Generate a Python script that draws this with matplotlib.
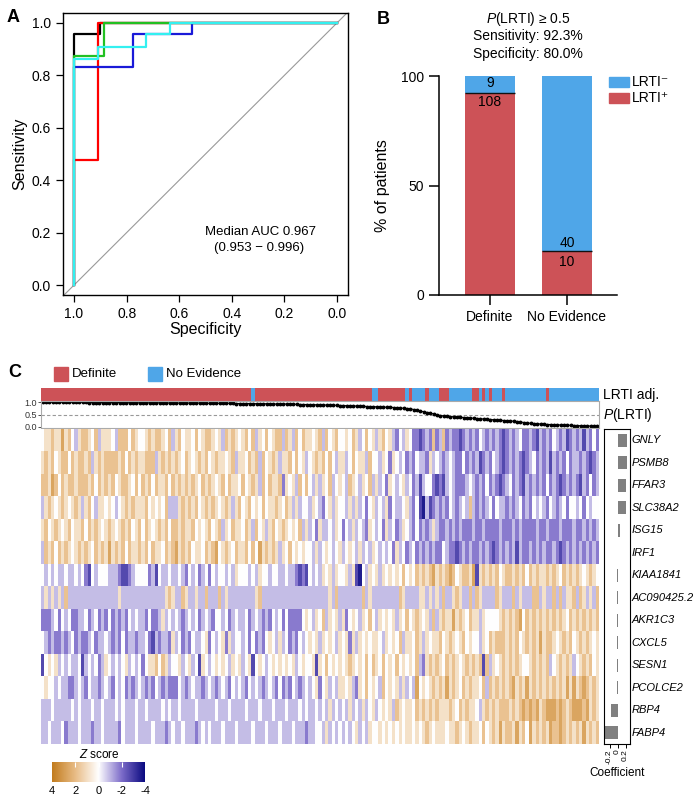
import numpy as np
import matplotlib
matplotlib.use("Agg")
import matplotlib.pyplot as plt
from matplotlib.colors import LinearSegmentedColormap, ListedColormap
from matplotlib.patches import Rectangle
from matplotlib.transforms import blended_transform_factory

plt.rcParams['font.family'] = ['Liberation Sans', 'DejaVu Sans']
plt.rcParams['mathtext.fontset'] = 'custom'
plt.rcParams['mathtext.rm'] = 'Liberation Sans'
plt.rcParams['mathtext.it'] = 'Liberation Sans:italic'

# ---------------- data ----------------
# panel A: ROC curves (specificity, sensitivity)
roc_black_spec = [1, 1, 0.90, 0.90, 0]
roc_black_sens = [0, 0.958, 0.958, 1, 1]
roc_red_spec = [1, 1, 0.907, 0.907, 0]
roc_red_sens = [0, 0.476, 0.476, 1, 1]
roc_blue_spec = [1, 1, 0.777, 0.777, 0.553, 0.553, 0]
roc_blue_sens = [0, 0.832, 0.832, 0.959, 0.959, 1, 1]
roc_green_spec = [1, 1, 0.886, 0.886, 0]
roc_green_sens = [0, 0.873, 0.873, 1, 1]
roc_cyan_spec = [1, 1, 0.907, 0.907, 0.728, 0.728, 0.635, 0.635, 0]
roc_cyan_sens = [0, 0.864, 0.864, 0.909, 0.909, 0.959, 0.959, 1, 1]

# panel B: counts
groups_b = ['Definite', 'No Evidence']
lrti_pos = [108, 10]
lrti_neg = [9, 40]

# panel C: adjudication of each patient (1 = Definite, 0 = No Evidence), run lengths
adj_runs = [(1, 63), (0, 1), (1, 35), (0, 2), (1, 8), (0, 1), (1, 1), (0, 4), (1, 1),
            (0, 3), (1, 3), (0, 7), (1, 2), (0, 1), (1, 1), (0, 1), (1, 1), (0, 3),
            (1, 1), (0, 12), (1, 1), (0, 15)]

p_lrti = [1.00, .99, .99, .99, .99, .99, .99, .99, .99, .99,
          .99, .99, .99, .99, .98, .98, .98, .98, .98, .98,
          .98, .98, .98, .98, .98, .98, .97, .97, .97, .97,
          .97, .97, .97, .97, .97, .97, .97, .97, .96, .96,
          .96, .96, .96, .96, .96, .96, .96, .96, .96, .95,
          .95, .95, .95, .95, .95, .95, .95, .95, .94, .94,
          .94, .94, .94, .94, .93, .93, .93, .93, .93, .92,
          .92, .92, .92, .92, .91, .91, .91, .90, .90, .90,
          .89, .89, .89, .88, .88, .88, .87, .87, .87, .86,
          .86, .85, .85, .84, .84, .83, .83, .82, .82, .81,
          .81, .80, .80, .79, .79, .78, .77, .76, .75, .74,
          .73, .70, .67, .64, .61, .58, .56, .52, .48, .46,
          .44, .43, .42, .41, .40, .39, .38, .37, .36, .35,
          .34, .33, .32, .31, .30, .29, .28, .27, .26, .25,
          .24, .23, .22, .20, .18, .16, .15, .14, .13, .12,
          .11, .10, .10, .09, .09, .08, .08, .07, .07, .06,
          .06, .05, .05, .04, .04, .03, .03]

genes = ['GNLY', 'PSMB8', 'FFAR3', 'SLC38A2', 'ISG15', 'IRF1', 'KIAA1841',
         'AC090425.2', 'AKR1C3', 'CXCL5', 'SESN1', 'PCOLCE2', 'RBP4', 'FABP4']
coefficients = [0.245, 0.245, 0.22, 0.20, 0.06, 0.01, -0.005, -0.008, -0.008,
                -0.008, -0.005, -0.005, -0.17, -0.32]

# z scores, one digit per patient: z = 0.9 * (digit - 5)
zrows = [
    "5667668675 4677657466 6547775765 5676776574 6756657567 7656476765 6757465756 7747647576 6567475675 5657645756 4675643546 5332343734 7343323434 3543434323 4345334324 3435434234 3424353",
    "6767567757 6776746767 7776757676 6777467676 7657656767 5676656746 6576747567 6466757564 5676757546 6457566475 5465365453 4354436454 3454335343 4234354323 4343234534 3424343534 4343234",
    "7768757677 6777675767 6756776575 7675766757 6767676576 7656757665 7567647576 6736564757 5464657456 5476546574 6453654564 5342455323 2454333454 3435343234 5343243434 3534323434 3243534",
    "4676567656 7646754665 6545676766 6756565744 4676767567 6765676467 5675657566 7657646455 4654356465 5464645356 4546354456 4352142343 4354345474 3434535443 4345343545 4354345355 4535455",
    "6756765675 6675767656 7656767567 5765676757 7676675656 7567465766 5764756467 5676565746 4536445465 3546454365 4536453465 4353434643 3434343334 3343333433 3434333343 3433343334 3343434",
    "4767576765 6767657676 8676757667 6757665767 8676756657 6785676576 6757586767 6465756565 5464565456 4565464546 5454536453 4534343433 5433234343 3434323434 3424334343 4334323434 3434343",
    "5454544544 5453254555 4443223455 5534254454 4543545345 3545545465 5545465545 5445443232 5454656465 5646215465 6465656575 6576767867 6787567768 2676767567 7676757676 6767657676 7656765",
    "4646464744 4444444444 4446444444 4444444676 4476446447 4447464444 4444674444 4444444444 4444446474 4444447464 4444444764 4446646464 7446764474 7644447644 4746444774 6447474667 4764647",
    "3334535453 3445345343 5343435454 4353346454 5434545345 4355453454 4534543435 4535333356 5465746564 6356546575 4656564657 5676564746 7668676576 6465555676 7678576767 6767676576 7676767",
    "5434334345 3433453445 4343534434 4532434436 4534354456 3545636455 4535343565 4645343545 6564656546 5636465656 6546565746 6576465667 5676567565 5465767776 7675676768 6776567675 6767656",
    "2565645454 4524545346 5454564545 3566757645 5645645265 4565654656 4562565456 5656564565 5626575656 5676565757 6575657565 6574367676 5767656767 6727465676 7676556767 6745676764 5676756",
    "5655454433 4543544345 4354534345 4343543433 3543454434 5434543545 4354543454 3534354345 4563564546 6564365756 5475656464 5485656767 6867657676 6574767676 7867686767 6767676868 6787676",
    "4445444445 4544454454 4454544454 4544445454 4544445444 4454445444 4544454445 4445444545 4454546454 5464546456 4565647656 6576767676 6676576766 5467676777 6767878786 7888787678 8878676",
    "4454445344 4544434454 4443544454 4445444345 4454443454 5444544454 4445444544 4544454443 4455464545 4545645465 5656565656 6565676566 6566765676 6575676867 7686758676 7687787676 7686767",
]

# ---------------- colours ----------------
red_c = '#CD5257'
blue_c = '#4FA6E8'
zcmap = LinearSegmentedColormap.from_list(
    'z', [(0.0, '#0A0A80'), (0.25, '#7D6CC9'), (0.5, '#FFFFFF'),
          (0.75, '#E8BC86'), (1.0, '#C27C1E')])

W, H = 700, 800
fig = plt.figure(figsize=(7, 8), dpi=100)


def ax_px(l, t, r, b):
    return fig.add_axes([l / W, 1 - b / H, (r - l) / W, (b - t) / H])


def ftext(x, y, s, **kw):
    fig.text(x / W, 1 - y / H, s, **kw)


# ---------------- panel A ----------------
axA = ax_px(63, 13, 348, 295)
axA.plot([1.042, -0.042], [-0.042, 1.042], color='#999999', lw=0.8)
for sp, se, c in [(roc_black_spec, roc_black_sens, 'black'),
                  (roc_red_spec, roc_red_sens, '#FF0000'),
                  (roc_blue_spec, roc_blue_sens, '#1A1AD8'),
                  (roc_green_spec, roc_green_sens, '#22C022'),
                  (roc_cyan_spec, roc_cyan_sens, '#33F0F0')]:
    axA.plot(sp, se, color=c, lw=1.6)
axA.set_xlim(1.042, -0.042)
axA.set_ylim(-0.038, 1.038)
ticks = [0, 0.2, 0.4, 0.6, 0.8, 1.0]
axA.set_xticks(ticks)
axA.set_xticklabels(['%.1f' % t for t in ticks])
axA.set_yticks(ticks)
axA.set_yticklabels(['%.1f' % t for t in ticks])
axA.tick_params(labelsize=10, length=5, width=0.9)
axA.set_xlabel('Specificity', fontsize=11.5, labelpad=1)
axA.set_ylabel('Sensitivity', fontsize=11.5, labelpad=3)
for s in axA.spines.values():
    s.set_linewidth(1.0)
axA.text(0.29, 0.202, 'Median AUC 0.967', ha='center', va='center', fontsize=9.5)
axA.text(0.297, 0.141, '(0.953 \u2212 0.996)', ha='center', va='center', fontsize=9.5)
ftext(13, 17, 'A', fontsize=13, fontweight='bold', ha='center', va='center')

# ---------------- panel B ----------------
axB = ax_px(439, 76, 617, 295)
xb = np.arange(len(groups_b))
tot = np.array(lrti_pos) + np.array(lrti_neg)
pos_pct = 100 * np.array(lrti_pos) / tot
neg_pct = 100 * np.array(lrti_neg) / tot
bw = 0.65
axB.bar(xb, pos_pct, width=bw, color=red_c)
axB.bar(xb, neg_pct, bottom=pos_pct, width=bw, color=blue_c)
axB.hlines(pos_pct, xb - bw / 2, xb + bw / 2, color='#111111', lw=1)
for i in range(len(xb)):
    if neg_pct[i] < 20:
        axB.text(xb[i], (pos_pct[i] + 100) / 2 + 0.5, str(lrti_neg[i]), ha='center', va='center', fontsize=10)
        axB.text(xb[i], pos_pct[i] - 4.3, str(lrti_pos[i]), ha='center', va='center', fontsize=10)
    else:
        axB.text(xb[i], pos_pct[i] + 3.8, str(lrti_neg[i]), ha='center', va='center', fontsize=10)
        axB.text(xb[i], pos_pct[i] - 4.8, str(lrti_pos[i]), ha='center', va='center', fontsize=10)
axB.set_xlim(-0.66, 1.65)
axB.set_ylim(0, 100)
axB.set_yticks([0, 50, 100])
axB.set_xticks(xb)
axB.set_xticklabels(groups_b)
axB.tick_params(labelsize=10, length=7, width=1.1)
axB.spines['top'].set_visible(False)
axB.spines['right'].set_visible(False)
axB.spines['left'].set_linewidth(1.1)
axB.spines['bottom'].set_linewidth(1.1)
axB.set_ylabel('% of patients', fontsize=11.5, labelpad=8)
ftext(528, 19, '$P$(LRTI) \u2265 0.5', ha='center', va='center', fontsize=10)
ftext(528, 36, 'Sensitivity: 92.3%', ha='center', va='center', fontsize=10)
ftext(528, 54, 'Specificity: 80.0%', ha='center', va='center', fontsize=10)
fig.patches.append(Rectangle((609 / W, 1 - 87 / H), 20 / W, 10 / H, color=blue_c,
                             transform=fig.transFigure, figure=fig))
fig.patches.append(Rectangle((609 / W, 1 - 103 / H), 20 / W, 10 / H, color=red_c,
                             transform=fig.transFigure, figure=fig))
ftext(632, 82, 'LRTI\u207b', ha='left', va='center', fontsize=10)
ftext(632, 98, 'LRTI\u207a', ha='left', va='center', fontsize=10)
ftext(383, 20, 'B', fontsize=13, fontweight='bold', ha='center', va='center')

# ---------------- panel C ----------------
ftext(15, 372, 'C', fontsize=13, fontweight='bold', ha='center', va='center')
fig.patches.append(Rectangle((54 / W, 1 - 381 / H), 14 / W, 14 / H, color=red_c,
                             transform=fig.transFigure, figure=fig))
fig.patches.append(Rectangle((148 / W, 1 - 381 / H), 14 / W, 14 / H, color=blue_c,
                             transform=fig.transFigure, figure=fig))
ftext(72, 374, 'Definite', ha='left', va='center', fontsize=9.5)
ftext(166, 374, 'No Evidence', ha='left', va='center', fontsize=9.5)

adj = np.concatenate([[v] * n for v, n in adj_runs])
n_pat = len(adj)

axT = ax_px(41, 388, 599, 401)
axT.imshow(adj[None, :], cmap=ListedColormap([blue_c, red_c]), vmin=0, vmax=1,
           aspect='auto', interpolation='nearest', extent=(-0.5, n_pat - 0.5, 0, 1))
axT.set_axis_off()
ftext(603, 394.5, 'LRTI adj.', ha='left', va='center', fontsize=10)

axP = ax_px(41, 401, 599, 428)
cols = np.arange(n_pat)
axP.axhline(0.5, color='#999999', lw=0.8, ls=(0, (3, 2)))
axP.plot(cols, p_lrti, '-o', color='black', ms=1.8, lw=0.8)
axP.set_xlim(-0.5, n_pat - 0.5)
axP.set_ylim(-0.04, 1.04)
axP.set_xticks([])
axP.set_yticks([0, 0.5, 1.0])
axP.set_yticklabels(['0.0', '0.5', '1.0'])
axP.tick_params(axis='y', labelsize=6.5, length=2, width=0.6, pad=1, colors='#333333')
for s in axP.spines.values():
    s.set_color('#AAAAAA')
    s.set_linewidth(0.8)
ftext(603, 415, '$P$(LRTI)', ha='left', va='center', fontsize=10)

Z = np.array([[0.9 * (int(ch) - 5) for ch in r.replace(' ', '')] for r in zrows])
axH = ax_px(41, 429, 599, 744)
axH.imshow(Z, cmap=zcmap, vmin=-4, vmax=4, aspect='auto', interpolation='nearest')
axH.set_axis_off()

axC = ax_px(604, 429, 630, 744)
axC.barh(np.arange(len(genes)), coefficients, height=0.58, color='#808080')
axC.set_ylim(len(genes) - 0.5, -0.5)
axC.set_xlim(-0.34, 0.31)
axC.set_yticks([])
axC.set_xticks([-0.2, 0, 0.2])
axC.set_xticklabels(['-0.2', '0', '0.2'], rotation=90)
axC.tick_params(axis='x', labelsize=6, length=3, width=0.7, pad=1)
for s in axC.spines.values():
    s.set_linewidth(0.8)
axC.set_xlabel('Coefficient', fontsize=8.5, labelpad=2)
tr = blended_transform_factory(axC.transAxes, axC.transData)
for i, g in enumerate(genes):
    axC.text(1.05, i, g, transform=tr, ha='left', va='center', fontsize=8, style='italic')

# colour key
axK = ax_px(52, 762, 145, 782)
grad = np.linspace(4, -4, 256)
axK.imshow(grad[None, :], cmap=zcmap, vmin=-4, vmax=4, aspect='auto',
           extent=(4, -4, 0, 1))
axK.set_xlim(4, -4)
axK.set_ylim(0, 1)
axK.set_yticks([])
axK.set_xticks([4, 2, 0, -2, -4])
axK.set_xticklabels(['4', '2', '0', '-2', '-4'])
axK.tick_params(axis='x', labelsize=8, length=0, pad=3)
axK.vlines([2, 0, -2], 0.75, 1.0, color='white', lw=0.8)
for s in axK.spines.values():
    s.set_visible(False)
ftext(99, 754, '$Z$ score', ha='center', va='center', fontsize=8.5)

fig.savefig('out.png', dpi=100)
